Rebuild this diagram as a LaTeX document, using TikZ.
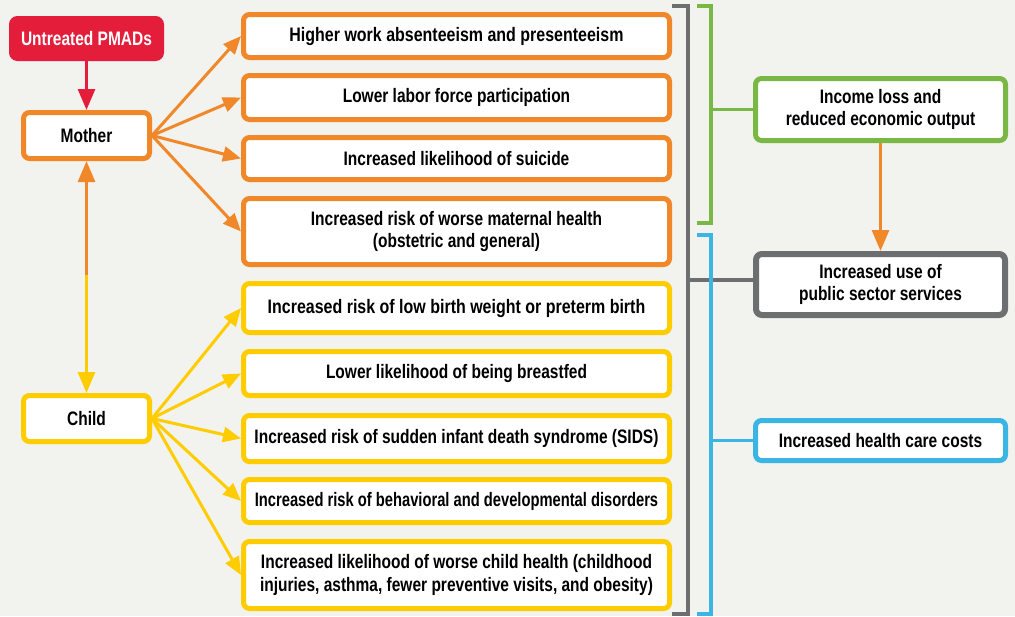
\documentclass[tikz,border=0pt]{standalone}
\usepackage{fontspec}
\setmainfont[FakeStretch=0.795]{Liberation Sans}
\newfontfamily\widerfont[FakeStretch=0.82]{Liberation Sans}
\newfontfamily\narrowfont[FakeStretch=0.755]{Liberation Sans}
\usetikzlibrary{arrows.meta}
\definecolor{cOrange}{RGB}{240,136,42}
\definecolor{cYellow}{RGB}{255,204,0}
\definecolor{cRed}{RGB}{228,30,58}
\definecolor{cGreen}{RGB}{122,184,70}
\definecolor{cGray}{RGB}{109,110,112}
\definecolor{cBlue}{RGB}{59,182,228}
\definecolor{cBg}{RGB}{242,242,238}
\tikzset{
  box/.style={draw, fill=white, line width=5pt, rounded corners=6pt, inner sep=0pt,
    align=center, font=\bfseries\fontsize{19.5}{22.5}\selectfont},
  obox/.style={box, draw=cOrange, minimum width=426pt},
  ybox/.style={box, draw=cYellow, minimum width=426pt},
  fan/.style={line width=3pt, -{Triangle[length=18pt,width=15pt]}},
  vert/.style={line width=3pt, -{Triangle[length=21pt,width=17pt]}},
  brk/.style={line width=3.5pt},
}
\begin{document}
\begin{tikzpicture}[x=1pt,y=-1pt]
\fill[cBg] (0,0) rectangle (1015,616);
\useasboundingbox (0,0) rectangle (1015,616);
% left column
\node[box, draw=cRed, fill=cRed, text=white, minimum width=150pt, minimum height=40pt] (pm) at (86.5,38.5) {Untreated PMADs};
\node[box, draw=cOrange, minimum width=126pt, minimum height=46pt] (mother) at (86.5,135.5) {Mother};
\node[box, draw=cYellow, minimum width=126pt, minimum height=46pt] (child) at (86.5,418.5) {Child};
% middle column
\node[obox, minimum height=43pt] (b1) at (456.5,36) {\widerfont Higher work absenteeism and presenteeism};
\node[obox, minimum height=44pt] (b2) at (456.5,97.5) {Lower labor force participation};
\node[obox, minimum height=42pt] (b3) at (456.5,158.5) {Increased likelihood of suicide};
\node[obox, minimum height=66pt] (b4) at (456.5,231.5) {Increased risk of worse maternal health\\(obstetric and general)};
\node[ybox, minimum height=49pt] (b5) at (456.5,308) {\widerfont Increased risk of low birth weight or preterm birth};
\node[ybox, minimum height=44pt] (b6) at (456.5,373.5) {Lower likelihood of being breastfed};
\node[ybox, minimum height=46pt] (b7) at (456.5,438.5) {Increased risk of sudden infant death syndrome (SIDS)};
\node[ybox, minimum height=43pt] (b8) at (456.5,501) {\narrowfont Increased risk of behavioral and developmental disorders};
\node[ybox, minimum height=67pt] (b9) at (456.5,575) {Increased likelihood of worse child health (childhood\\injuries, asthma, fewer preventive visits, and obesity)};
% right column
\node[box, draw=cGreen, minimum width=250pt, minimum height=62pt] (inc) at (880.5,109.5) {Income loss and\\reduced economic output};
\node[box, draw=cGray, line width=6pt, minimum width=249pt, minimum height=61pt] (use) at (880.5,284.5) {Increased use of\\public sector services};
\node[box, draw=cBlue, minimum width=250pt, minimum height=40pt] (hc) at (880.5,440.5) {Increased health care costs};
% arrows
\draw[vert, cRed] (pm) -- (mother);
\coordinate (mid) at (86.5,275);
\draw[vert, cOrange] (mid) -- (mother);
\draw[vert, cYellow] (mid) -- (child);
\foreach \b in {b1,b2,b3,b4} \draw[fan, cOrange] (mother.east) -- (\b.west);
\foreach \b in {b5,b6,b7,b8,b9} \draw[fan, cYellow] (child.east) -- (\b.west);
\draw[vert, cOrange] (inc) -- (use);
% brackets
\coordinate (gt) at (688,6);
\coordinate (gb) at (688,614);
\coordinate (gm) at (688,280);
\draw[brk, cGray, line width=4pt] (672,6) -- (gt) -- (gb) -- (672,614);
\draw[brk, cGray, line width=4pt] (gm) -- (gm -| use.west);
\coordinate (grm) at (711,109.5);
\draw[brk, cGreen] (697,6) -- (711,6) -- (711,223) -- (697,223);
\draw[brk, cGreen] (grm) -- (inc.west);
\coordinate (blm) at (711,440.5);
\draw[brk, cBlue] (697,235) -- (711,235) -- (711,614) -- (697,614);
\draw[brk, cBlue] (blm) -- (hc.west);
\end{tikzpicture}
\end{document}
